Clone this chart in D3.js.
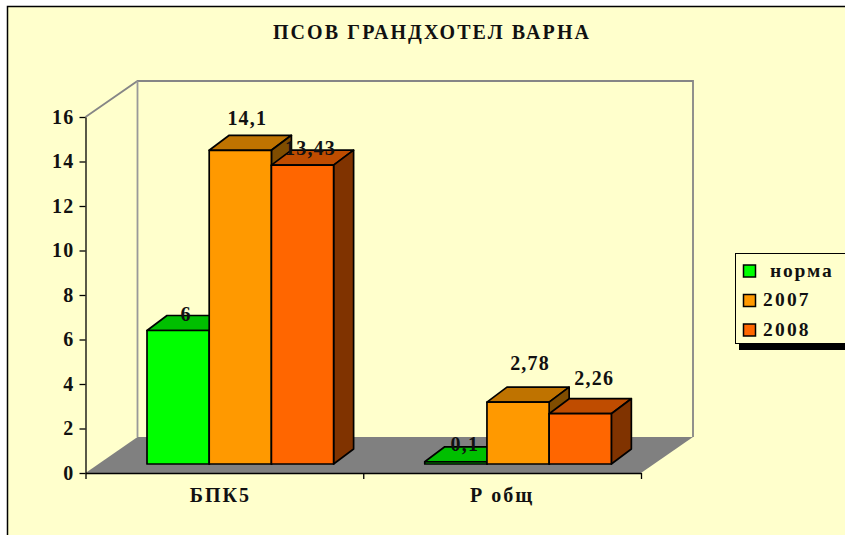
<!DOCTYPE html>
<html>

<head>
    <title>ПСОВ Грандхотел Варна</title>
    <script src="https://d3js.org/d3.v7.min.js"></script>
    <style>
        body {
            margin: 0;
            background: #fff;
        }

        svg {
            display: block;
        }

        text {
            font-family: "Liberation Serif", serif;
            font-weight: bold;
            fill: #111;
        }
    </style>
</head>

<body>
    <svg width="845" height="535" id="mainsvg"></svg>
    <script>
        const categories = ['БПК5', 'Р общ'];
        const seriesNames = ['норма', '2007', '2008'];
        const norma = [6, 0.1];
        const y2007 = [14.1, 2.78];
        const y2008 = [13.43, 2.26];
        const valueLabels = [['6', '0,1'], ['14,1', '2,78'], ['13,43', '2,26']];
        const yTicks = [0, 2, 4, 6, 8, 10, 12, 14, 16];

        const seriesValues = [norma, y2007, y2008];
        const fronts = ['#00ff00', '#ff9900', '#ff6600'];
        const tops = ['#00bf00', '#bf7300', '#bf4c00'];
        const sides = ['#008000', '#804d00', '#803300'];

        const svg = d3.select('#mainsvg');
        const x0 = 85.5, x1 = 641, y0 = 473, y1 = 117;
        const wallDx = 52, wallDy = -36;   // depth of the whole box
        const barDx = 20, barDy = -15;     // depth of one bar
        const barShiftY = -9;              // bars stand inside the floor

        const yScale = d3.scaleLinear().domain([0, 16]).range([y0, y1]);
        const xBand = d3.scaleBand().domain(categories).range([x0, x1]);
        const xEdges = d3.scaleLinear().domain([0, 2]).range([x0, x1]);
        const barW = 62.2;
        const xSeries = d3.scaleBand().domain(seriesNames)
            .range([0, barW * 3]);

        const pts = a => a.map(p => p.join(',')).join(' ');

        // frame
        svg.append('rect').attr('x', 7.5).attr('y', 6.5)
            .attr('width', 900).attr('height', 600)
            .attr('fill', '#ffffcc').attr('stroke', '#000').attr('stroke-width', 1.5);

        svg.append('text').attr('x', 432).attr('y', 39)
            .attr('text-anchor', 'middle').attr('font-size', 20)
            .attr('letter-spacing', 2.1)
            .text('ПСОВ ГРАНДХОТЕЛ ВАРНА');

        // floor and walls
        svg.append('polygon')
            .attr('points', pts([[x0, y0], [x0 + wallDx, y0 + wallDy], [x1 + wallDx, y0 + wallDy], [x1, y0]]))
            .attr('fill', '#808080');
        svg.append('polyline')
            .attr('points', pts([[x0, y1], [x0 + wallDx, y1 + wallDy], [x1 + wallDx, y1 + wallDy], [x1 + wallDx, y0 + wallDy]]))
            .attr('fill', 'none').attr('stroke', '#868686').attr('stroke-width', 1.8);
        svg.append('line')
            .attr('x1', x0 + wallDx).attr('x2', x0 + wallDx)
            .attr('y1', y1 + wallDy).attr('y2', y0 + wallDy)
            .attr('stroke', '#999').attr('stroke-width', 1.8);

        // axes
        const yAxis = d3.axisLeft(yScale).tickValues(yTicks).tickSize(6).tickSizeOuter(0).tickPadding(5);
        const yAxisGroup = svg.append('g').attr('transform', `translate(${x0},0)`).call(yAxis);
        yAxisGroup.selectAll('text').attr('font-size', 20).attr('letter-spacing', 1.2)
            .attr('font-family', '"Liberation Serif", serif');
        yAxisGroup.selectAll('path,line').attr('stroke', '#000').attr('stroke-width', 1.3);

        const xAxis = d3.axisBottom(xEdges).tickValues([0, 1, 2]).tickFormat('').tickSize(6).tickSizeOuter(0);
        const xAxisGroup = svg.append('g').attr('transform', `translate(0,${y0})`).call(xAxis);
        xAxisGroup.selectAll('path,line').attr('stroke', '#000').attr('stroke-width', 1.3);

        const catShift = [-4, 0];
        svg.selectAll('.catlabel').data(categories).join('text')
            .attr('class', 'catlabel')
            .attr('x', (d, i) => xBand(d) + xBand.bandwidth() / 2 + catShift[i])
            .attr('y', 502)
            .attr('text-anchor', 'middle').attr('font-size', 20).attr('letter-spacing', 2)
            .text(d => d);

        // bars, left to right so that each one covers the side of the previous
        const baseY = yScale(0) + barShiftY;
        const barH = v => yScale(0) - yScale(v);
        const groupLeft = c => xBand(c) + 61.5;

        categories.forEach((c, ci) => {
            seriesNames.forEach((s, si) => {
                const v = seriesValues[si][ci];
                const l = groupLeft(c) + xSeries(s);
                const r = l + xSeries.bandwidth();
                const t = baseY - barH(v);
                const g = svg.append('g').attr('stroke', '#000').attr('stroke-width', 1.7)
                    .attr('stroke-linejoin', 'round');
                g.append('polygon').attr('fill', tops[si])
                    .attr('points', pts([[l, t], [l + barDx, t + barDy], [r + barDx, t + barDy], [r, t]]));
                g.append('polygon').attr('fill', sides[si])
                    .attr('points', pts([[r, t], [r + barDx, t + barDy], [r + barDx, baseY + barDy], [r, baseY]]));
                g.append('rect').attr('fill', fronts[si])
                    .attr('x', l).attr('y', t).attr('width', r - l).attr('height', baseY - t);
            });
        });

        // value labels sit where they were dragged in the original
        const nudgeX = [[8, 9], [7, 12], [8, 14]];
        const nudgeY = [[-10, -11], [-25, -32], [-10, -29]];
        categories.forEach((c, ci) => {
            seriesNames.forEach((s, si) => {
                const v = seriesValues[si][ci];
                svg.append('text')
                    .attr('x', groupLeft(c) + xSeries(s) + xSeries.bandwidth() / 2 + nudgeX[si][ci])
                    .attr('y', baseY - barH(v) + nudgeY[si][ci])
                    .attr('text-anchor', 'middle').attr('font-size', 20).attr('letter-spacing', 1.2)
                    .text(valueLabels[si][ci]);
            });
        });

        // legend
        svg.append('rect').attr('x', 739).attr('y', 343).attr('width', 120).attr('height', 7).attr('fill', '#000');
        svg.append('rect').attr('x', 735.5).attr('y', 253.5).attr('width', 130).attr('height', 90)
            .attr('fill', '#ffffcc').attr('stroke', '#000').attr('stroke-width', 1);
        const legendY = d3.scalePoint().domain(seriesNames).range([271, 330]);
        const legend = svg.selectAll('.legend').data(seriesNames).join('g')
            .attr('class', 'legend')
            .attr('transform', d => `translate(0,${legendY(d)})`);
        legend.append('rect').attr('x', 743.5).attr('y', -6).attr('width', 12).attr('height', 12)
            .attr('fill', (d, i) => fronts[i]).attr('stroke', '#000').attr('stroke-width', 1.5);
        legend.append('text')
            .attr('x', (d, i) => i === 0 ? 770 : 763)
            .attr('y', 5.5)
            .attr('font-size', 19.5).attr('letter-spacing', (d, i) => i === 0 ? 1.8 : 2.2)
            .text(d => d);
    </script>

</body>

</html>
